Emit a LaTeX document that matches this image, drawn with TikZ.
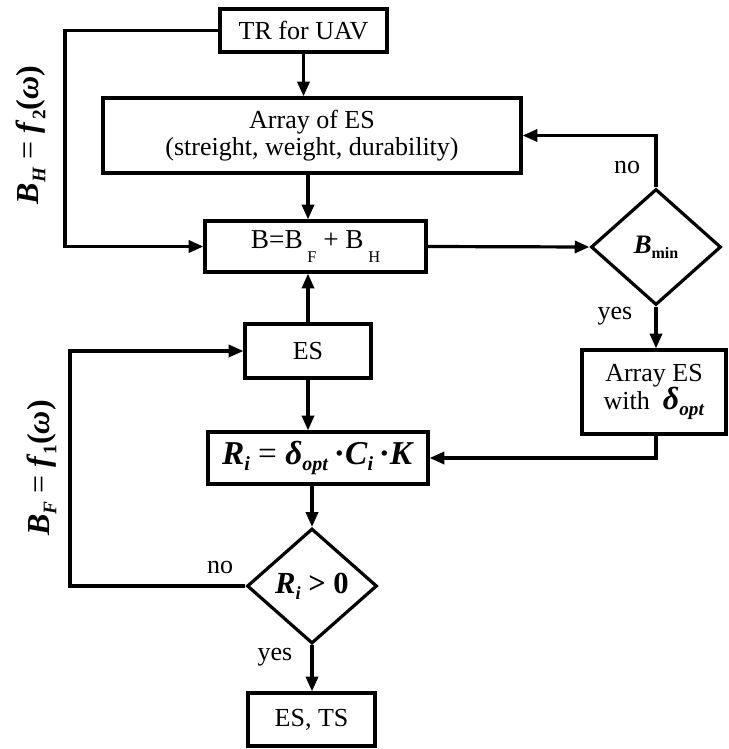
\documentclass[tikz,border=0pt]{standalone}
\usepackage{fontspec}
\usepackage{graphicx}
\setmainfont{Liberation Serif}
\usetikzlibrary{arrows.meta,shapes.geometric}
\newcommand{\mbi}[1]{\textbf{\textit{#1}}}
\newcommand{\lowsub}[2][-0.35ex]{\raisebox{#1}{\scalebox{0.6}{#2}}}
\newcommand{\fsn}{\fontsize{19.5pt}{22pt}\selectfont}
\begin{document}
\begin{tikzpicture}[x=0.75pt,y=-0.75pt,
  box/.style={draw, line width=2.4pt, inner sep=0pt, font=\fsn, align=center},
  dia/.style={draw, diamond, line width=2.4pt, inner sep=0pt, aspect=1.13},
  conn/.style={line width=2.4pt, -{Triangle[length=11pt,width=9pt]}},
  lbl/.style={font=\fsn, inner sep=0pt}]
\useasboundingbox (0,0) rectangle (728,749);
% nodes
\node[box, minimum width=167*0.75pt, minimum height=43*0.75pt] (tr) at (303.5,30.5) {TR for UAV};
\node[box, minimum width=418*0.75pt, minimum height=75*0.75pt] (arr) at (312,135.5) {Array of ES\\[-2pt](streight, weight, durability)};
\node[box, minimum width=221*0.75pt, minimum height=51*0.75pt, font=\fontsize{20.5pt}{22pt}\selectfont] (b) at (315.5,246.5) {B=B\,\lowsub[-1.1ex]{F} + B\,\lowsub[-1.1ex]{H}};
\node[dia, minimum width=130*0.75pt, minimum height=116*0.75pt, font=\fontsize{20pt}{22pt}\selectfont] (bmin) at (656,247) {\mbi{B}\lowsub[-0.4ex]{\textbf{min}}};
\node[box, minimum width=144*0.75pt, minimum height=84*0.75pt] (arres) at (654,392) {Array ES\\[-1pt]with \ {\fontsize{24pt}{24pt}\selectfont\mbi{δ}\lowsub[-0.4ex]{\mbi{opt}}}};
\node[box, minimum width=126*0.75pt, minimum height=54*0.75pt] (es) at (308,351) {ES};
\node[box, minimum width=220*0.75pt, minimum height=52*0.75pt, font=\fontsize{25pt}{27pt}\selectfont] (r) at (318,458) {\mbi{R}\lowsub[-0.45ex]{\mbi{i}} = \mbi{δ}\lowsub[-0.45ex]{\mbi{opt}}\,\textbf{·}\mbi{C}\lowsub[-0.45ex]{\mbi{i}}\,\textbf{·}\mbi{K}};
\node[dia, minimum width=130*0.75pt, minimum height=115*0.75pt, font=\fontsize{23pt}{25pt}\selectfont] (rdia) at (312,586) {\mbi{R}\lowsub[-0.45ex]{\mbi{i}} \textbf{>} \textbf{0}};
\node[box, minimum width=127*0.75pt, minimum height=53*0.75pt] (ests) at (311.5,719.5) {ES, TS};
% labels
\node[lbl] (no1) at (627,167) {no};
\node[lbl] (yes1) at (615,316) {yes};
\node[lbl] (no2) at (220,567) {no};
\node[lbl] (yes2) at (275,657) {yes};
\node[rotate=90, inner sep=0pt, font=\fontsize{24pt}{26pt}\selectfont] (bh) at (31,135) {\mbi{B}\lowsub[-0.45ex]{\mbi{H}} = \mbi{f}\lowsub[-0.45ex]{\textbf{2}}\textbf{(}\mbi{ω}\textbf{)}};
\node[rotate=90, inner sep=0pt, font=\fontsize{24pt}{26pt}\selectfont] (bf) at (42,468) {\mbi{B}\lowsub[-0.45ex]{\mbi{F}} = \mbi{f}\lowsub[-0.45ex]{\textbf{1}}\textbf{(}\mbi{ω}\textbf{)}};
% helper coordinates
\coordinate (lt) at (65,30);
\coordinate (lb) at (70,351);
% connectors
\draw[conn] (tr.south) -- (tr.south |- arr.north);
\draw[conn] (arr.south -| es) -- (b.north -| es);
\draw[conn] (tr.west) -- (tr.west -| lt) |- (b.west);
\draw[conn] (b.east) -- (bmin.west);
\draw[conn] (bmin.north) |- (arr.east);
\draw[conn] (bmin.south) -- (bmin.south |- arres.north);
\draw[conn] (arres.south -| bmin) |- (r.east);
\draw[conn] (es.north) -- (es.north |- b.south);
\draw[conn] (es.south) -- (es.south |- r.north);
\draw[conn] (r.south -| rdia) -- (rdia.north);
\draw[conn] (rdia.south) -- (rdia.south |- ests.north);
\draw[conn] (rdia.west) -- (rdia.west -| lb) |- (es.west);
\end{tikzpicture}
\end{document}
